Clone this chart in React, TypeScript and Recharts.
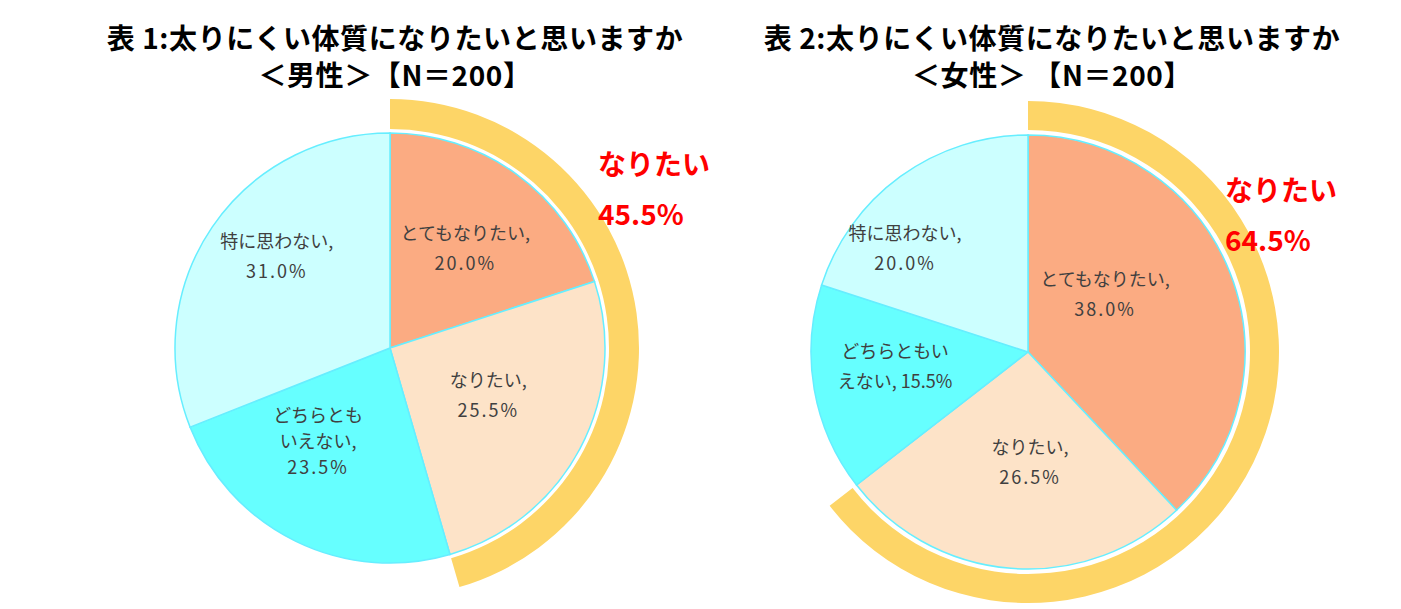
import { PieChart, Pie, Cell } from 'recharts'

// 回答カテゴリ（12時の位置から時計回り）
const CATEGORIES = ['とてもなりたい', 'なりたい', 'どちらともいえない', '特に思わない']
const MALE_VALUES = [20.0, 25.5, 23.5, 31.0]
const FEMALE_VALUES = [38.0, 26.5, 15.5, 20.0]

// 「なりたい」合計（外側の帯）
const MALE_WANT = [45.5, 54.5]
const FEMALE_WANT = [64.5, 35.5]

// スライス内ラベルの改行
const MALE_LABELS = [
  ['とてもなりたい,', '20.0%'],
  ['なりたい,', '25.5%'],
  ['どちらとも', 'いえない,', '23.5%'],
  ['特に思わない,', '31.0%'],
]
const FEMALE_LABELS = [
  ['とてもなりたい,', '38.0%'],
  ['なりたい,', '26.5%'],
  ['どちらともい', 'えない, 15.5%'],
  ['特に思わない,', '20.0%'],
]

const TITLES = [
  ['表 1:太りにくい体質になりたいと思いますか', '＜男性＞【N＝200】'],
  ['表 2:太りにくい体質になりたいと思いますか', '＜女性＞ 【N＝200】'],
]
const WANT_TEXT = ['なりたい', '45.5%', '64.5%']

const SLICE_COLORS = ['#FBAB82', '#FDE3C8', '#66FFFF', '#CCFFFF']
const BAND_COLOR = '#FDD567'
const LABEL_COLOR = '#404040'
const FONT = '"Noto Sans CJK JP", "Noto Sans", sans-serif'
const RADIAN = Math.PI / 180

// ラベル位置の微調整（放射方向の位置からのずれ）
const MALE_NUDGE = [[2, 0], [-12, -12], [-17, -20], [-10, -23]]
const FEMALE_NUDGE = [[-40, -13], [12, -16], [-9, -9], [-49, -3]]

function makeLabel(lines: string[][], nudge: number[][]) {
  return (props: any) => {
    const { cx, cy, midAngle, outerRadius, index } = props
    const r = outerRadius * 0.58
    const x = cx + r * Math.cos(-midAngle * RADIAN) + nudge[index][0]
    const y = cy + r * Math.sin(-midAngle * RADIAN) + nudge[index][1]
    const ls = lines[index]
    const step = ls.length > 2 ? 26 : 30
    const top = y - ((ls.length - 1) * step) / 2
    return (
      <text
        key={`lbl-${index}`}
        x={x}
        y={top}
        textAnchor="middle"
        dominantBaseline="central"
        fill={LABEL_COLOR}
        fontSize={18}
        fontFamily={FONT}
      >
        {ls.map((t, i) => (
          <tspan key={i} x={x} y={top + i * step} letterSpacing={/^[\d.%]+$/.test(t) ? 2 : 0}>{t}</tspan>
        ))}
      </text>
    )
  }
}

const toData = (values: number[]) => values.map((v, i) => ({ name: CATEGORIES[i], value: v }))
const toBand = (values: number[]) => values.map((v, i) => ({ name: i === 0 ? 'なりたい' : 'その他', value: v }))

function Title({ lines, cx }: { lines: string[]; cx: number }) {
  return (
    <div style={{
      position: 'absolute', left: cx - 350, top: 19, width: 700,
      textAlign: 'center', fontFamily: FONT, fontWeight: 700, fontSize: 28,
      letterSpacing: 0.6, lineHeight: '37px', color: '#000',
    }}>
      {lines.map((l, i) => <div key={i}>{l}</div>)}
    </div>
  )
}

function WantText({ left, top, value }: { left: number; top: number; value: string }) {
  return (
    <div style={{
      position: 'absolute', left, top, fontFamily: FONT, fontWeight: 700,
      fontSize: 28, lineHeight: '50px', color: '#FF0000',
    }}>
      <div>{WANT_TEXT[0]}</div>
      <div>{value}</div>
    </div>
  )
}

export default function App() {
  return (
    <div style={{ position: 'absolute', left: 0, top: 0, width: 1401, height: 609, background: '#fff', overflow: 'hidden' }}>
      <PieChart width={1401} height={609} margin={{ top: 0, right: 0, bottom: 0, left: 0 }}
        style={{ position: 'absolute', left: 0, top: 0 }}>
        {/* 男性：外側の帯 */}
        <Pie data={toBand(MALE_WANT)} dataKey="value" cx={390} cy={348}
          innerRadius={219} outerRadius={249} startAngle={90} endAngle={-270}
          stroke="none" isAnimationActive={false}>
          <Cell fill={BAND_COLOR} />
          <Cell fill="transparent" />
        </Pie>
        {/* 男性：本体 */}
        <Pie data={toData(MALE_VALUES)} dataKey="value" cx={390} cy={348}
          outerRadius={215} startAngle={90} endAngle={-270}
          stroke="#66EEFF" strokeWidth={1.5} labelLine={false}
          label={makeLabel(MALE_LABELS, MALE_NUDGE)} isAnimationActive={false}>
          {MALE_VALUES.map((_, i) => <Cell key={i} fill={SLICE_COLORS[i]} />)}
        </Pie>
        {/* 女性：外側の帯 */}
        <Pie data={toBand(FEMALE_WANT)} dataKey="value" cx={1028} cy={352}
          innerRadius={222} outerRadius={251} startAngle={90} endAngle={-270}
          stroke="none" isAnimationActive={false}>
          <Cell fill={BAND_COLOR} />
          <Cell fill="transparent" />
        </Pie>
        {/* 女性：本体 */}
        <Pie data={toData(FEMALE_VALUES)} dataKey="value" cx={1028} cy={352}
          outerRadius={217} startAngle={90} endAngle={-270}
          stroke="#66EEFF" strokeWidth={1.5} labelLine={false}
          label={makeLabel(FEMALE_LABELS, FEMALE_NUDGE)} isAnimationActive={false}>
          {FEMALE_VALUES.map((_, i) => <Cell key={i} fill={SLICE_COLORS[i]} />)}
        </Pie>
      </PieChart>
      <Title lines={TITLES[0]} cx={395} />
      <Title lines={TITLES[1]} cx={1052} />
      <WantText left={598} top={138} value={WANT_TEXT[1]} />
      <WantText left={1225} top={164} value={WANT_TEXT[2]} />
    </div>
  )
}
